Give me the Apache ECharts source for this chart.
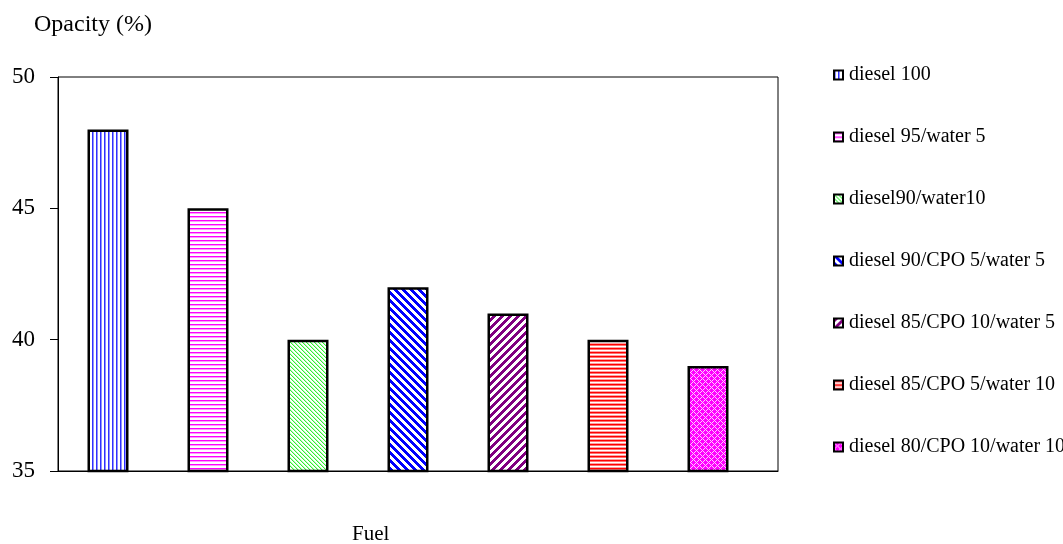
<!DOCTYPE html>
<html>
<head>
<meta charset="utf-8">
<script src="https://cdn.jsdelivr.net/npm/echarts@6/dist/echarts.min.js"></script>
<style>html,body{margin:0;padding:0;background:#fff;}#c{width:1063px;height:544px;}</style>
</head>
<body>
<div id="c"></div>
<script>
const seriesNames = ["diesel 100", "diesel 95/water 5", "diesel90/water10", "diesel 90/CPO 5/water 5", "diesel 85/CPO 10/water 5", "diesel 85/CPO 5/water 10", "diesel 80/CPO 10/water 10"];
const positions = [1, 2, 3, 4, 5, 6, 7];
const opacityValues = [48, 45, 40, 42, 41, 40, 39];
const yTicks = [35, 40, 45, 50];

function hex(c){return [parseInt(c.slice(1,3),16),parseInt(c.slice(3,5),16),parseInt(c.slice(5,7),16)];}
function tile(size, fn){
  const cv=document.createElement('canvas'); cv.width=size; cv.height=size;
  const ctx=cv.getContext('2d'); const img=ctx.createImageData(size,size);
  for(let y=0;y<size;y++)for(let x=0;x<size;x++){
    const c=hex(fn(x,y)); const i=(y*size+x)*4;
    img.data[i]=c[0];img.data[i+1]=c[1];img.data[i+2]=c[2];img.data[i+3]=255;
  }
  ctx.putImageData(img,0,0); return cv;
}
const mod=(a,n)=>((a%n)+n)%n;
const patterns=[
  tile(8,(x,y)=>{const m=x%4;return m===0?'#3030ff':(m===1?'#9090ff':'#ffffff');}),
  tile(8,(x,y)=>{const m=y%4;return m===0?'#ff00ff':(m===1?'#ff99ff':'#ffffff');}),
  tile(8,(x,y)=>{const m=mod(x-y,4);return m===0?'#33ee33':(m===1?'#bbffbb':'#ffffff');}),
  tile(8,(x,y)=>{const m=mod(x-y,8);return m<4?'#0000ff':'#ffffff';}),
  tile(8,(x,y)=>{const m=mod(x+y,8);return m<4?'#800080':'#ffffff';}),
  tile(8,(x,y)=>{const m=y%4;return m===0?'#ff0000':(m===1?'#ff7070':(m===2?'#ffffff':'#ffa0a0'));}),
  tile(12,(x,y)=>{return (mod(x+y,6)===0||mod(x-y,6)===0)?'#ffccff':'#ff00ff';})
];

const series = seriesNames.map((name,i)=>({
  name: name,
  type: 'bar',
  barWidth: 41,
  barGap: '-100%',
  data: [[positions[i], opacityValues[i]]],
  itemStyle: { color: {image: patterns[i], repeat: 'repeat'}, borderColor: '#000', borderWidth: 2.5 },
  emphasis: { disabled: true },
  animation: false
}));

const chart = echarts.init(document.getElementById('c'), null, {renderer:'canvas'});
chart.setOption({
  animation: false,
  backgroundColor: '#fff',
  title: [
    { text: 'Opacity (%)', left: 29, top: 8, textStyle: { fontFamily: 'Liberation Serif', fontSize: 24, fontWeight: 'normal', color: '#000' } },
    { text: 'Fuel', left: 347, top: 519, textStyle: { fontFamily: 'Liberation Serif', fontSize: 21, fontWeight: 'normal', color: '#000' } }
  ],
  grid: { left: 58, right: 285, top: 77, bottom: 73, show: true, borderColor: '#000', borderWidth: 1, backgroundColor: 'transparent' },
  xAxis: {
    type: 'value', min: 0.5, max: 7.7,
    axisLine: { show: true, lineStyle: { color: '#000', width: 1 } },
    axisTick: { show: false }, axisLabel: { show: false }, splitLine: { show: false }
  },
  yAxis: {
    type: 'value', min: yTicks[0], max: yTicks[yTicks.length-1], interval: 5,
    axisLine: { show: true, lineStyle: { color: '#000', width: 1 } },
    axisTick: { show: true, length: 8, lineStyle: { color: '#000' } },
    axisLabel: { margin: 23, fontFamily: 'Liberation Serif', fontSize: 23, color: '#000' },
    splitLine: { show: false }
  },
  legend: {
    orient: 'vertical', left: 833, top: 65, padding: 0,
    itemWidth: 9, itemHeight: 9, itemGap: 42, icon: 'rect',
    itemStyle: { borderColor: '#000', borderWidth: 2 },
    textStyle: { fontFamily: 'Liberation Serif', fontSize: 20, color: '#000', padding: [0,0,0,1] },
    data: seriesNames
  },
  series: series
});
</script>
</body>
</html>
